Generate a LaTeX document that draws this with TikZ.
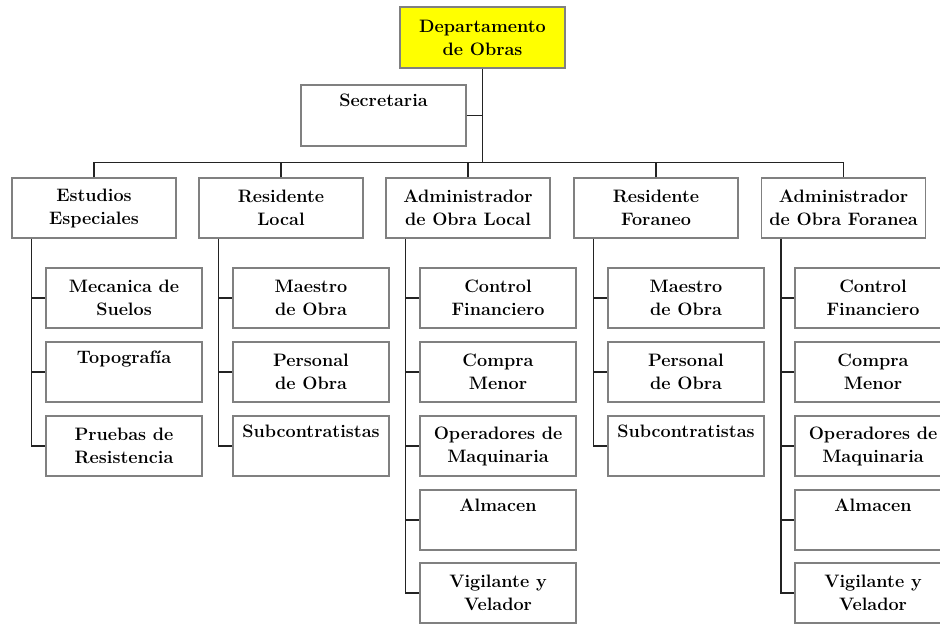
\documentclass[tikz,border=0pt]{standalone}
\definecolor{boxgray}{RGB}{128,128,128}
\definecolor{linegray}{RGB}{35,35,35}
\definecolor{topyellow}{RGB}{255,255,0}
\begin{document}
\begin{tikzpicture}[x=1pt,y=-1pt,
  box/.style={draw=boxgray, line width=1.1pt, rectangle, fill=white,
    minimum width=156pt, minimum height=60pt, inner sep=0pt,
    align=center, font=\fontsize{18}{23}\selectfont\bfseries, text=black},
  pbox/.style={box, minimum width=164pt},
  conn/.style={draw=linegray, line width=1.3pt}]
\clip (0,0) rectangle (940,624);
\fill[white] (0,0) rectangle (940,624);
% top
\node[pbox, minimum width=165pt, minimum height=61pt, fill=topyellow] (top) at (482.5,37.5) {Departamento\\de Obras};
\node[pbox, minimum width=165pt, minimum height=61pt] (sec) at (383.5,115.5) {Secretaria\\\strut};
% level 2
\node[pbox] (e1) at (94,208) {Estudios\\Especiales};
\node[pbox] (e2) at (281,208) {Residente\\Local};
\node[pbox] (e3) at (468,208) {Administrador\\de Obra Local};
\node[pbox] (e4) at (656,208) {Residente\\Foraneo};
\node[pbox] (e5) at (843.5,208) {Administrador\\de Obra Foranea};
% children
\node[box] (c11) at (124,298) {Mecanica de\\Suelos};
\node[box] (c12) at (124,372) {Topografía\\\strut};
\node[box] (c13) at (124,446) {Pruebas de\\Resistencia};
\node[box] (c21) at (311,298) {Maestro\\de Obra};
\node[box] (c22) at (311,372) {Personal\\de Obra};
\node[box] (c23) at (311,446) {Subcontratistas\\\strut};
\node[box] (c31) at (498,298) {Control\\Financiero};
\node[box] (c32) at (498,372) {Compra\\Menor};
\node[box] (c33) at (498,446) {Operadores de\\Maquinaria};
\node[box] (c34) at (498,520) {Almacen\\\strut};
\node[box] (c35) at (498,593) {Vigilante y\\Velador};
\node[box] (c41) at (686,298) {Maestro\\de Obra};
\node[box] (c42) at (686,372) {Personal\\de Obra};
\node[box] (c43) at (686,446) {Subcontratistas\\\strut};
\node[box] (c51) at (873,298) {Control\\Financiero};
\node[box] (c52) at (873,372) {Compra\\Menor};
\node[box] (c53) at (873,446) {Operadores de\\Maquinaria};
\node[box] (c54) at (873,520) {Almacen\\\strut};
\node[box] (c55) at (873,593) {Vigilante y\\Velador};
% connectors
\coordinate (b1) at ([yshift=15pt]e1.north);
\coordinate (b5) at ([yshift=15pt]e5.north);
\draw[conn] (top.south) -- (top.south |- b1);
\draw[conn] (sec.east) -- (sec.east -| top.south);
\draw[conn] (e1.north) -- (b1) -- (b5) -- (e5.north);
\foreach \e in {e2,e3,e4} \draw[conn] (\e.north) -- (\e.north |- b1);
\foreach \p/\last/\kids in {e1/c13/{c11,c12,c13}, e2/c23/{c21,c22,c23}, e3/c35/{c31,c32,c33,c34,c35}, e4/c43/{c41,c42,c43}, e5/c55/{c51,c52,c53,c54,c55}} {
  \coordinate (sp) at ([xshift=20pt]\p.south west);
  \draw[conn] (sp) |- (\last.west);
  \foreach \k in \kids \draw[conn] (\k.west -| sp) -- (\k.west);
}
\end{tikzpicture}
\end{document}
